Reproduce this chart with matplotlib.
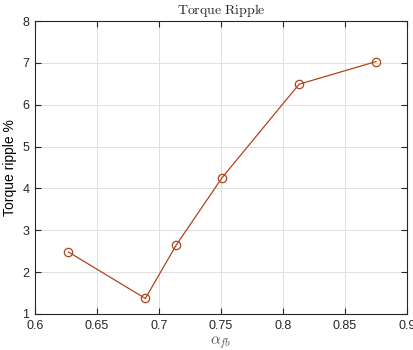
import matplotlib
matplotlib.use('Agg')
import matplotlib.pyplot as plt

# feedback ratio vs torque ripple
alpha_fb = [0.627, 0.689, 0.714, 0.751, 0.813, 0.875]
ripple = [2.48, 1.37, 2.65, 4.26, 6.49, 7.03]

xticks = [0.6, 0.65, 0.7, 0.75, 0.8, 0.85, 0.9]
xticklabels = ['0.6', '0.65', '0.7', '0.75', '0.8', '0.85', '0.9']
yticks = [1, 2, 3, 4, 5, 6, 7, 8]

plt.rcParams['font.family'] = ['Liberation Sans', 'DejaVu Sans']
plt.rcParams['mathtext.fontset'] = 'cm'

fig = plt.figure(figsize=(4.14, 3.5), dpi=100)
ax = fig.add_axes([0.0845, 0.103, 0.8985, 0.837])

ax.plot(alpha_fb, ripple, color='#b0441c', lw=0.9, marker='o', ms=6,
        mfc='none', mec='#b0441c', mew=0.9)

ax.set_xlim(0.6, 0.9)
ax.set_ylim(1, 8)
ax.set_xticks(xticks)
ax.set_xticklabels(xticklabels)
ax.set_yticks(yticks)
ax.grid(True, color='#dfdfdf', lw=0.7)
ax.set_axisbelow(True)

for s in ax.spines.values():
    s.set_color('#262626')
    s.set_linewidth(0.8)
ax.tick_params(direction='in', top=True, right=True, length=4, width=0.8,
               color='#262626', labelcolor='#262626', labelsize=9, pad=4)

ax.set_title(r'$\mathrm{Torque\ Ripple}$', fontsize=10, color='#262626', pad=5)
ax.set_xlabel(r'$\alpha_{fb}$', fontsize=11, color='#555555', labelpad=2)
ax.set_ylabel('Torque ripple %', fontsize=10, color='#000000', labelpad=4)

fig.savefig('out.png', dpi=100)
